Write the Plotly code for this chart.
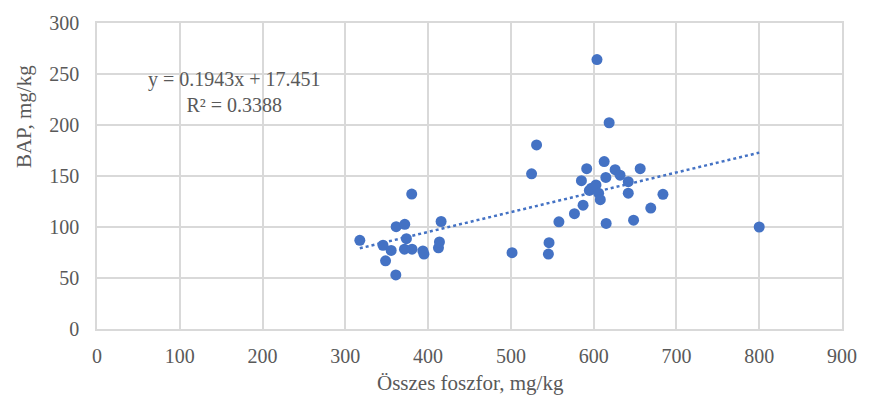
import plotly.graph_objects as go

# Data
osszes_foszfor = [317.5, 345.5, 348.6, 355.4, 361.4, 361.0, 371.8, 373.8, 371.4, 380.6,
                  380.2, 393.7, 395.0, 412.5, 413.7, 415.7,
                  501.4, 525.0, 531.0, 545.3, 546.1, 558.0, 576.8, 585.2, 587.2, 591.6,
                  594.8, 597.2, 602.8, 604.0, 606.0, 608.0, 612.7, 614.7, 615.1, 618.7,
                  625.9, 631.9, 641.8, 641.8, 648.2, 656.2, 669.0, 683.7, 800.0]
bap = [86.9, 82.1, 66.8, 77.0, 100.3, 53.0, 102.6, 88.5, 78.3, 78.3,
       132.3, 76.5, 73.5, 79.6, 85.3, 105.4,
       74.8, 152.1, 180.5, 73.5, 84.6, 105.1, 113.1, 145.4, 121.4, 157.2,
       135.8, 138.0, 141.2, 264.2, 133.2, 126.8, 164.2, 148.6, 103.5, 202.2,
       156.2, 150.8, 144.4, 133.2, 106.7, 157.2, 118.6, 132.0, 100.0]

slope = 0.1943
intercept = 17.451
r_squared = 0.3388

x_ticks = [0, 100, 200, 300, 400, 500, 600, 700, 800, 900]
y_ticks = [0, 50, 100, 150, 200, 250, 300]

blue = "#4472C4"
gray_text = "#595959"
grid = "#D9D9D9"
serif = "Liberation Serif, Times New Roman, serif"

x_min, x_max = min(osszes_foszfor), max(osszes_foszfor)
trend_x = [x_min, x_max]
trend_y = [slope * v + intercept for v in trend_x]

fig = go.Figure()
fig.add_trace(go.Scatter(
    x=trend_x, y=trend_y, mode="lines",
    line=dict(color=blue, width=2.5, dash="dot"),
    hoverinfo="skip", showlegend=False))
fig.add_trace(go.Scatter(
    x=osszes_foszfor, y=bap, mode="markers",
    marker=dict(color=blue, size=11, line=dict(width=0)),
    showlegend=False))

fig.update_layout(
    width=869, height=402,
    margin=dict(l=97, r=18, t=16, b=73),
    paper_bgcolor="white", plot_bgcolor="white",
    font=dict(family=serif, size=20, color=gray_text),
    xaxis=dict(range=[0, 900], tickvals=x_ticks, showgrid=True, gridcolor=grid,
               gridwidth=1.5, zeroline=False, showline=True, linecolor=grid,
               linewidth=1.5, mirror=True, ticks="outside", ticklen=8,
               tickcolor="rgba(0,0,0,0)", tickfont=dict(size=20, color=gray_text)),
    yaxis=dict(range=[0, 300], tickvals=y_ticks, showgrid=True, gridcolor=grid,
               gridwidth=1.5, zeroline=False, showline=True, linecolor=grid,
               linewidth=1.5, mirror=True, ticks="outside", ticklen=12,
               tickcolor="rgba(0,0,0,0)", tickfont=dict(size=20, color=gray_text)),
    annotations=[
        dict(text="Összes foszfor, mg/kg", xref="paper", yref="paper",
             x=0.502, y=-0.178, yanchor="middle", xanchor="center", showarrow=False,
             font=dict(size=21, color=gray_text)),
        dict(text="BAP, mg/kg", xref="paper", yref="paper",
             x=-0.097, xanchor="center", y=0.695, yanchor="middle", textangle=-90,
             showarrow=False, font=dict(size=21, color=gray_text)),
        dict(text=f"y = {slope}x + {intercept}<br>R² = {r_squared}",
             xref="x", yref="y", x=166, y=232, xanchor="center", yanchor="middle",
             align="center", showarrow=False,
             font=dict(size=20, color=gray_text)),
    ],
)

fig.write_html("out.html")
